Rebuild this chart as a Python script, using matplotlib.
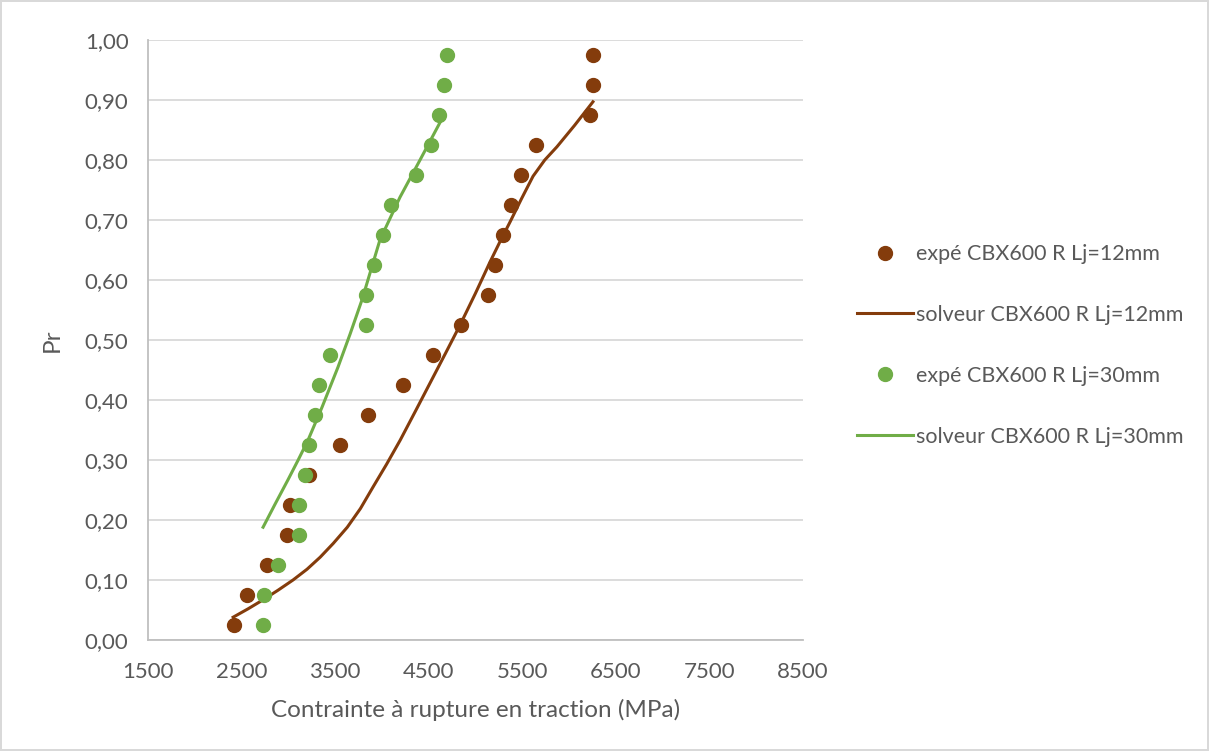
import matplotlib
matplotlib.use('Agg')
import matplotlib.pyplot as plt
from matplotlib.ticker import FuncFormatter, MultipleLocator

plt.rcParams['font.family'] = ['Lato', 'DejaVu Sans']

# probabilités de rupture (communes aux deux séries)
pr = [0.025, 0.075, 0.125, 0.175, 0.225, 0.275, 0.325, 0.375, 0.425, 0.475,
      0.525, 0.575, 0.625, 0.675, 0.725, 0.775, 0.825, 0.875, 0.925, 0.975]

# expé Lj=12mm
sig_12 = [2420, 2560, 2775, 2990, 3020, 3225, 3555, 3855, 4220, 4550,
          4850, 5130, 5205, 5290, 5375, 5485, 5645, 6220, 6255, 6255]
# expé Lj=30mm
sig_30 = [2730, 2740, 2890, 3115, 3115, 3180, 3225, 3290, 3330, 3450,
          3835, 3835, 3910, 4015, 4100, 4360, 4520, 4615, 4660, 4700]

# solveur Lj=12mm
solv_12_x = [2410, 2570, 2730, 2890, 3050, 3200, 3340, 3480, 3630, 3770, 3905, 4050, 4195,
             4360, 4520, 4680, 4835, 5000, 5155, 5265, 5370, 5490, 5615, 5740, 5870, 6060, 6255]
solv_12_y = [0.038, 0.052, 0.067, 0.083, 0.100, 0.118, 0.138, 0.161, 0.188, 0.219, 0.255, 0.293, 0.333,
             0.382, 0.430, 0.478, 0.525, 0.578, 0.630, 0.665, 0.697, 0.735, 0.773, 0.800, 0.822, 0.858, 0.897]
# solveur Lj=30mm
solv_30_x = [2730, 2860, 2996, 3105, 3210, 3360, 3531, 3660, 3787, 3979, 4193, 4407, 4653]
solv_30_y = [0.188, 0.227, 0.267, 0.300, 0.333, 0.388, 0.455, 0.510, 0.567, 0.667, 0.738, 0.800, 0.872]

ticks_x = [1500, 2500, 3500, 4500, 5500, 6500, 7500, 8500]

brun = '#843C0C'
vert = '#70AD47'
gris = '#595959'

fig = plt.figure(figsize=(12.09, 7.51), dpi=100)
ax = fig.add_axes([0.1224, 0.1478, 0.5418, 0.7989])

ax.plot(sig_12, pr, 'o', color=brun, markersize=10, label='expé CBX600 R Lj=12mm', zorder=3)
ax.plot(solv_12_x, solv_12_y, '-', color=brun, linewidth=2.2, label='solveur CBX600 R Lj=12mm', zorder=3)
ax.plot(sig_30, pr, 'o', color=vert, markersize=10, label='expé CBX600 R Lj=30mm', zorder=4)
ax.plot(solv_30_x, solv_30_y, '-', color=vert, linewidth=2.2, label='solveur CBX600 R Lj=30mm', zorder=4)

ax.set_xlim(1500, 8500)
ax.set_ylim(0, 1)
ax.set_xticks(ticks_x)
ax.yaxis.set_major_locator(MultipleLocator(0.1))
ax.yaxis.set_major_formatter(FuncFormatter(lambda v, p: f'{v:.2f}'.replace('.', ',')))
ax.grid(axis='y', color='#D9D9D9', linewidth=1.3)
ax.set_axisbelow(True)
for s in ['top', 'right']:
    ax.spines[s].set_visible(False)
for s in ['left', 'bottom']:
    ax.spines[s].set_color('#BFBFBF')
    ax.spines[s].set_linewidth(1.3)
ax.tick_params(length=0, labelsize=16, labelcolor=gris)
ax.tick_params(axis='y', pad=14)
ax.tick_params(axis='x', pad=16)

ax.set_xlabel('Contrainte à rupture en traction (MPa)', fontsize=17.5, color=gris, labelpad=12)
ax.set_ylabel('Pr', fontsize=17.5, color=gris, labelpad=16)

ax.legend(loc='center left', bbox_to_anchor=(0.709, 0.54), bbox_transform=fig.transFigure,
          frameon=False, fontsize=15.5, labelcolor=gris, handlelength=2.6,
          handletextpad=0.15, labelspacing=1.9, borderpad=0, borderaxespad=0)

fig.patch.set_edgecolor('#D9D9D9')
fig.patch.set_linewidth(1.5)
fig.savefig('out.png', dpi=100, edgecolor=fig.get_edgecolor())
